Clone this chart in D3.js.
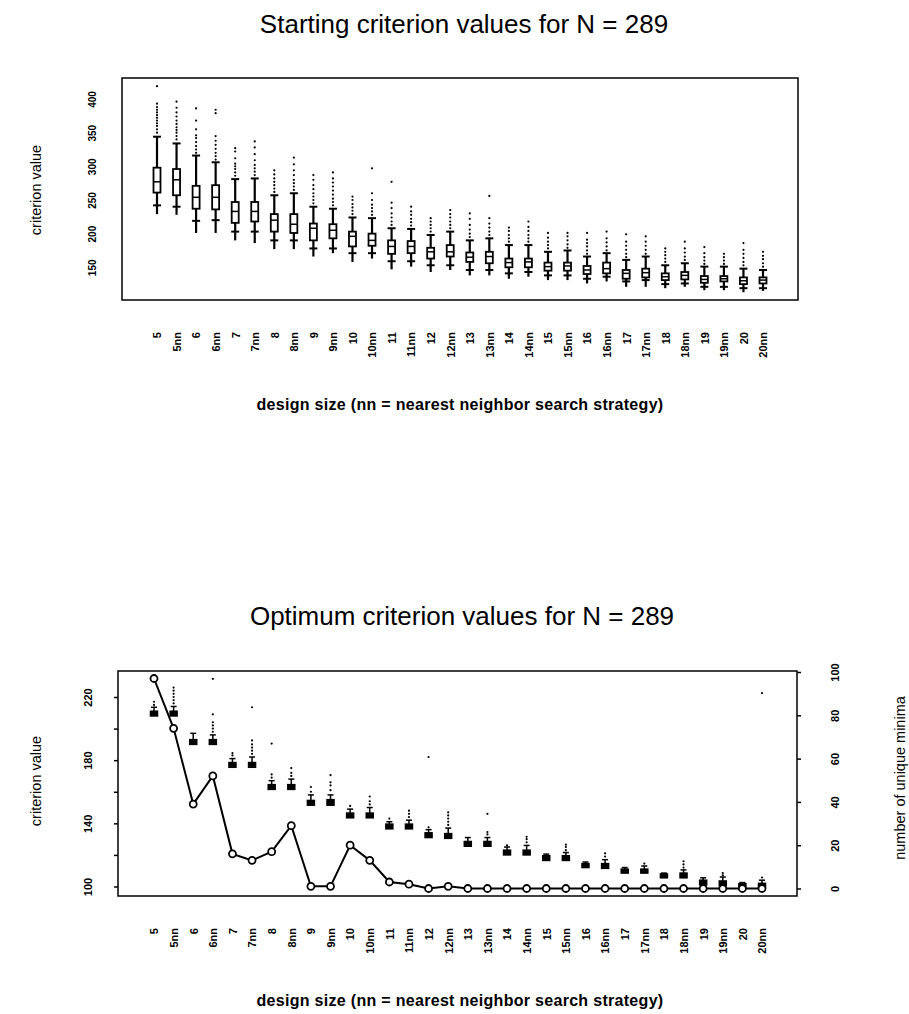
<!DOCTYPE html>
<html>
<head>
<meta charset="utf-8">
<script src="https://cdn.jsdelivr.net/npm/d3@7"></script>
<style>
  body { margin: 0; background: #fff; }
  text { font-family: "Liberation Sans", Arial, sans-serif; fill: #000; }
</style>
</head>
<body>
<div id="chart"></div>
<script>
// design sizes, plain and nearest-neighbour ("nn") strategy
const categories = ['5','5nn','6','6nn','7','7nn','8','8nn','9','9nn','10','10nn','11','11nn','12','12nn',
  '13','13nn','14','14nn','15','15nn','16','16nn','17','17nn','18','18nn','19','19nn','20','20nn'];

// starting criterion values (top panel)
const startLo    = [229,228,201,201,190,186,177,177,166,171,158,163,147,151,143,146,138,138,133,136,131,131,126,129,121,121,119,121,116,116,113,115];
const startCrossLo = [242,240,219,220,203,203,190,190,178,178,171,171,159,159,153,153,146,146,141,143,138,138,133,136,129,131,125,126,121,121,119,119];
const startQ1    = [261,257,237,236,216,218,203,201,190,193,181,182,170,171,163,166,158,156,150,150,145,145,140,141,133,135,131,132,127,129,125,126];
const startMed   = [277,280,254,254,233,233,220,214,208,205,196,190,181,181,173,173,165,166,157,158,151,152,146,148,141,142,136,138,132,133,130,131];
const startQ3    = [298,296,271,272,247,247,229,229,215,214,203,200,190,189,179,183,172,173,163,163,157,157,152,157,146,148,141,143,137,137,135,135];
const startCrossHi = [344,334,316,306,281,282,257,260,240,237,224,223,208,207,198,203,190,193,183,183,173,175,166,171,161,166,153,156,151,151,148,146];
const startOut = [
  [350,355,360,364,368,372,376,380,384,388,393,419],
  [340,345,350,354,358,363,368,374,380,387,396],
  [320,325,330,336,342,346,355,368,386],
  [310,315,320,326,332,338,345,379,384],
  [286,291,296,300,304,312,322,327],
  [287,292,297,302,309,318,328,337],
  [262,267,272,277,282,288,294],
  [265,270,275,280,287,294,303,313],
  [245,250,255,260,266,272,280,287],
  [242,247,252,258,264,270,276,282,291],
  [229,234,239,244,250,255],
  [228,233,238,243,250,260,297],
  [213,218,224,230,238,246,277],
  [212,217,222,228,233,240],
  [203,208,213,218,223],
  [208,213,218,224,229,235],
  [195,200,206,213,222,230],
  [198,203,209,215,223,256],
  [188,193,198,204,209],
  [188,193,198,204,210,218],
  [178,183,188,194,201],
  [179,184,190,196,201],
  [170,175,181,186,191,201],
  [175,181,187,193,203],
  [165,170,176,182,188,199],
  [170,176,182,188,196],
  [158,163,168,173,178],
  [161,166,172,178,188],
  [155,160,165,171,180],
  [155,160,165,170],
  [153,158,164,170,176,186],
  [151,156,162,167,173]
];

// optimum criterion values (bottom panel, left axis)
const optQ1  = [208,208,190,190,175.5,175.5,161.5,161.5,151.5,151.5,143.5,143.5,136.5,136.5,131,130.5,125.5,125.5,120,120,116.5,116.5,112,111.5,108.5,108.5,105.5,105.5,101,100.5,99.8,99.5];
const optMed = [209.5,209.5,191.5,191.5,177,177,163,163,153,153,145,145,138,138,132.5,132,127,127,121.5,121.5,118,118,113.3,113,110,110,107,107,102.5,102,100.8,100.8];
const optQ3  = [211,211,193,193,178.5,178.5,164.5,164.5,154.5,155,146.5,146.5,139.5,139.5,134,133.5,128.5,128.5,123,123,119.5,119.5,114.5,114.5,111,111,108,108.5,104,103.5,101.8,102];
const optTop = [213.5,214,197,196,181,182,167,168,158,158,149,150,141,142,136,137,131,131,125,126,120.5,121.5,115.5,117,112,113,108.5,110.5,105.5,106,102.5,104];
const optOut = [
  [215,217], [216,218,220,222,224,226], [], [198,200,202,204,209,231.5],
  [183,184.5], [184,186,188,190,192.5,213.5], [169,171,190.5], [170,172,175],
  [160,163], [161,164,166,170.5], [151], [152,154,157],
  [143], [144,146,148], [137.5,182], [139,141,143,145,147],
  [], [133,134.5,146], [126], [128,130,131.5],
  [], [123,125,126.5], [], [119,121],
  [], [114.5], [], [112,114,116],
  [], [107,108.5], [], [105.7,222.5]
];

// number of unique minima (bottom panel, right axis)
const uniqueMinima = [97,74,39,52,16,13,17,29,1,1,20,13,3,2,0,1,0,0,0,0,0,0,0,0,0,0,0,0,0,0,0,0];

const startTicks = [150,200,250,300,350,400];
const optTicks = [100,120,140,160,180,200,220];
const optLabels = [100,140,180,220];
const minimaTicks = [0,20,40,60,80,100];

const width = 909;
const height = 1014;

const svg = d3.select('#chart')
  .append('svg')
  .attr('width', width)
  .attr('height', height);

// rotated tick labels for R-style axes
const styleYLabels = (g, offset, size, keep) => {
  g.selectAll('.tick text')
    .attr('transform', 'rotate(-90)')
    .attr('x', 0)
    .attr('y', offset)
    .attr('dy', '0.35em')
    .attr('text-anchor', 'middle')
    .attr('font-size', size)
    .attr('font-weight', 'bold')
    .text((d) => (keep && keep.indexOf(d) === -1) ? '' : d);
  g.select('.domain').remove();
  g.selectAll('.tick line').attr('stroke-width', 1.5);
};

const styleXLabels = (g, offset) => {
  g.selectAll('.tick text')
    .attr('transform', 'rotate(-90)')
    .attr('x', -offset)
    .attr('y', 0)
    .attr('dy', '0.35em')
    .attr('text-anchor', 'end')
    .attr('font-size', 11)
    .attr('font-weight', 'bold');
  g.select('.domain').remove();
  g.selectAll('.tick line').remove();
};

const addXTitle = (y) => {
  svg.append('text')
    .attr('x', 460).attr('y', y)
    .attr('text-anchor', 'middle')
    .attr('font-size', 16).attr('font-weight', 'bold')
    .attr('letter-spacing', 0.3)
    .text('design size (nn = nearest neighbor search strategy)');
};

const addYTitle = (x, y, label) => {
  svg.append('text')
    .attr('transform', `translate(${x},${y}) rotate(-90)`)
    .attr('dy', '0.35em')
    .attr('text-anchor', 'middle')
    .attr('font-size', 14.5)
    .text(label);
};

// ---------- top panel ----------
const topBox = { left: 122, right: 798, top: 78, bottom: 300 };
const xTop = d3.scalePoint().domain(categories).range([157, 763]);
const yTop = d3.scaleLinear().domain([150, 400]).range([267.3, 99]);

svg.append('text')
  .attr('x', 464).attr('y', 33)
  .attr('text-anchor', 'middle')
  .attr('font-size', 26)
  .text('Starting criterion values for N = 289');

svg.append('rect')
  .attr('x', topBox.left).attr('y', topBox.top)
  .attr('width', topBox.right - topBox.left).attr('height', topBox.bottom - topBox.top)
  .attr('fill', 'none').attr('stroke', '#000').attr('stroke-width', 1.5);

svg.append('g')
  .attr('transform', `translate(${topBox.left},0)`)
  .call(d3.axisLeft(yTop).tickValues(startTicks).tickSize(0))
  .call((g) => styleYLabels(g, -30, 10));

svg.append('g')
  .attr('transform', `translate(0,${topBox.bottom})`)
  .call(d3.axisBottom(xTop).tickSize(0))
  .call((g) => styleXLabels(g, 32));

const startG = svg.append('g')
  .selectAll('g')
  .data(categories)
  .enter()
  .append('g')
  .attr('transform', (d) => `translate(${xTop(d)},0)`);

startG.append('line')
  .attr('y1', (d, i) => yTop(startLo[i]))
  .attr('y2', (d, i) => yTop(startCrossHi[i]))
  .attr('stroke', '#000').attr('stroke-width', 2.2);

startG.selectAll('.staple')
  .data((d, i) => [startCrossLo[i], startCrossHi[i]])
  .enter()
  .append('line')
  .attr('x1', -4).attr('x2', 4)
  .attr('y1', (v) => yTop(v)).attr('y2', (v) => yTop(v))
  .attr('stroke', '#000').attr('stroke-width', 2);

startG.selectAll('.out')
  .data((d, i) => startOut[i])
  .enter()
  .append('circle')
  .attr('cy', (v) => yTop(v))
  .attr('r', 1.1)
  .attr('fill', '#000');

startG.append('rect')
  .attr('x', -3.5).attr('width', 7)
  .attr('y', (d, i) => yTop(startQ3[i]))
  .attr('height', (d, i) => yTop(startQ1[i]) - yTop(startQ3[i]))
  .attr('fill', '#fff').attr('stroke', '#000').attr('stroke-width', 1.8);

startG.append('line')
  .attr('x1', -3.5).attr('x2', 3.5)
  .attr('y1', (d, i) => yTop(startMed[i]))
  .attr('y2', (d, i) => yTop(startMed[i]))
  .attr('stroke', '#000').attr('stroke-width', 1.5);

addXTitle(410);
addYTitle(36, 190, 'criterion value');

// ---------- bottom panel ----------
const botBox = { left: 118, right: 797, top: 671, bottom: 896 };
const xBot = d3.scalePoint().domain(categories).range([154, 762]);
const yBot = d3.scaleLinear().domain([100, 220]).range([886.5, 697]);
const yMin = d3.scaleLinear().domain([0, 100]).range([888.5, 672]);

svg.append('text')
  .attr('x', 462).attr('y', 625)
  .attr('text-anchor', 'middle')
  .attr('font-size', 26)
  .text('Optimum criterion values for N = 289');

svg.append('rect')
  .attr('x', botBox.left).attr('y', botBox.top)
  .attr('width', botBox.right - botBox.left).attr('height', botBox.bottom - botBox.top)
  .attr('fill', 'none').attr('stroke', '#000').attr('stroke-width', 1.5);

svg.append('g')
  .attr('transform', `translate(${botBox.left},0)`)
  .call(d3.axisLeft(yBot).tickValues(optTicks).tickSize(4))
  .call((g) => styleYLabels(g, -30, 11, optLabels));

svg.append('g')
  .attr('transform', `translate(${botBox.right},0)`)
  .call(d3.axisRight(yMin).tickValues(minimaTicks).tickSize(4))
  .call((g) => styleYLabels(g, 38, 11));

svg.append('g')
  .attr('transform', `translate(0,${botBox.bottom})`)
  .call(d3.axisBottom(xBot).tickSize(0))
  .call((g) => styleXLabels(g, 32));

const optG = svg.append('g')
  .selectAll('g')
  .data(categories)
  .enter()
  .append('g')
  .attr('transform', (d) => `translate(${xBot(d)},0)`);

optG.append('line')
  .attr('y1', (d, i) => yBot(optQ1[i]))
  .attr('y2', (d, i) => yBot(optTop[i]))
  .attr('stroke', '#000').attr('stroke-width', 1.5);

optG.append('line')
  .attr('x1', -3).attr('x2', 3)
  .attr('y1', (d, i) => yBot(optTop[i]))
  .attr('y2', (d, i) => yBot(optTop[i]))
  .attr('stroke', '#000').attr('stroke-width', 1.5);

optG.selectAll('.out')
  .data((d, i) => optOut[i])
  .enter()
  .append('circle')
  .attr('cy', (v) => yBot(v))
  .attr('r', 1.1)
  .attr('fill', '#000');

optG.append('rect')
  .attr('x', -3.5).attr('width', 7)
  .attr('y', (d, i) => yBot(optQ3[i]))
  .attr('height', (d, i) => yBot(optQ1[i]) - yBot(optQ3[i]))
  .attr('fill', '#000').attr('stroke', '#000').attr('stroke-width', 1.5);

// unique minima line with open circles
const line = d3.line()
  .x((d, i) => xBot(categories[i]))
  .y((d) => yMin(d));

svg.append('path')
  .datum(uniqueMinima)
  .attr('d', line)
  .attr('fill', 'none')
  .attr('stroke', '#000')
  .attr('stroke-width', 2);

svg.append('g')
  .selectAll('circle')
  .data(uniqueMinima)
  .enter()
  .append('circle')
  .attr('cx', (d, i) => xBot(categories[i]))
  .attr('cy', (d) => yMin(d))
  .attr('r', 3.5)
  .attr('fill', '#fff')
  .attr('stroke', '#000')
  .attr('stroke-width', 1.8);

addXTitle(1006);
addYTitle(36, 781, 'criterion value');
addYTitle(900, 778, 'number of unique minima');
</script>
</body>
</html>
